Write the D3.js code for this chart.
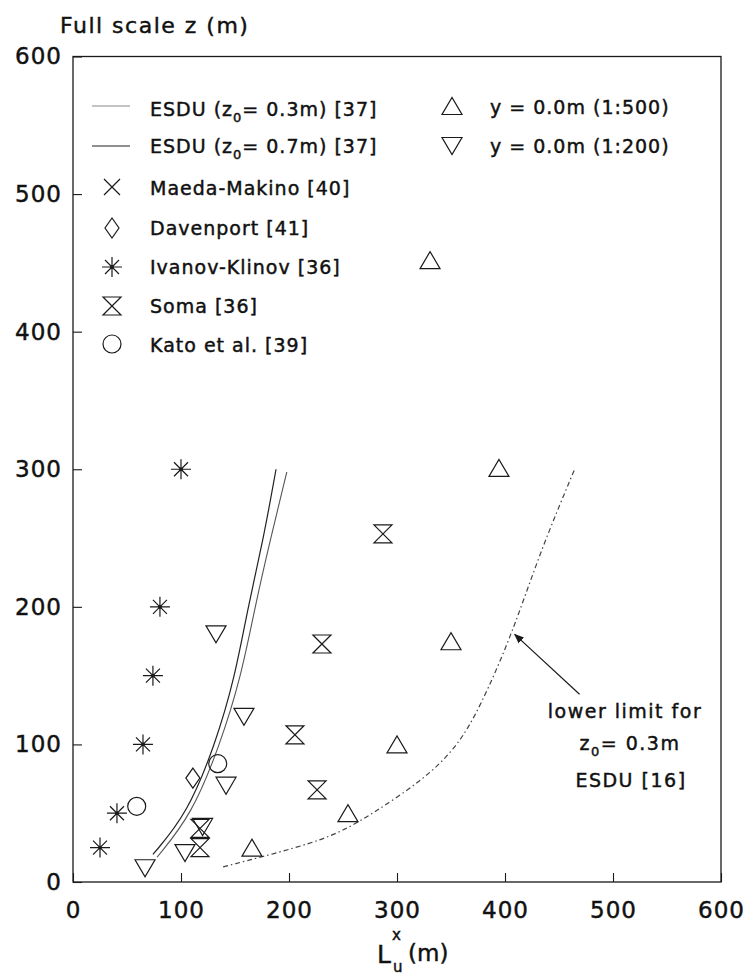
<!DOCTYPE html>
<html>
<head>
<meta charset="utf-8">
<script src="https://cdn.jsdelivr.net/npm/d3@7"></script>
<style>
  html, body { margin: 0; padding: 0; background: #fff; }
  svg { display: block; }
  text { font-family: "DejaVu Sans", "Liberation Sans", sans-serif; fill: #111; stroke: #111; stroke-width: 0.45px; }
</style>
</head>
<body>
<svg id="chart" width="747" height="976"></svg>
<script>
// Integral length scale L_u^x versus full-scale height z
const xTicks = [0, 100, 200, 300, 400, 500, 600];
const yTicks = [0, 100, 200, 300, 400, 500, 600];

// ESDU curves [L (m), z (m)]
const esdu07 = [[74, 20], [105.6, 49.4], [131.5, 99.5], [150, 149], [162, 200], [176, 248], [188, 300]];
const esdu03 = [[77.8, 18], [110, 49], [136, 99.5], [155.6, 149], [168.5, 200], [182.4, 248], [198, 298]];
const esduLower = [[139, 11], [210, 25.4], [247, 35.6], [278, 50], [324, 74], [355.6, 98], [377, 127], [407, 181], [432, 239], [465, 301]];

// Field measurements [L (m), z (m)]
const maedaMakino = [];
const davenport = [[111, 75.5]];
const ivanovKlinov = [[25, 25], [40.7, 50], [64.8, 100], [74, 150], [80.5, 200], [100, 300]];
const soma = [[117.6, 25], [117.6, 39], [205.5, 107], [226, 67], [230.5, 173], [287, 253]];
const kato = [[59, 55], [134, 86]];

// Wind tunnel measurements [L (m), z (m)]
const model500 = [[165.7, 25], [254.6, 50], [300, 100], [350, 175], [394.4, 301], [330.6, 452]];
const model200 = [[66.7, 10], [103.7, 21], [120, 40], [141.7, 70], [158.3, 120], [132.4, 180]];

const svg = d3.select("#chart");
const ink = "#1a1a1a";

const x = d3.scaleLinear().domain([0, 600]).range([73, 721]);
const y = d3.scaleLinear().domain([0, 600]).range([882, 56.5]);

// marker shapes, drawn around (0,0)
const shapes = {
  triUp: "M-10,8.5L10,8.5L0,-8.5Z",
  triDown: "M-10,-8.5L10,-8.5L0,8.5Z",
  hourglass: "M-9,-9L9,-9L-9,9L9,9Z",
  diamond: "M0,-10L7,0L0,10L-7,0Z",
  cross: "M-8,-8L8,8M-8,8L8,-8",
  circle: "M9,0A9,9 0 1,1 -9,0A9,9 0 1,1 9,0Z",
  asterisk: "M-10,0H10M0,-10V10M-7,-7L7,7M-7,7L7,-7"
};

function marker(g, type, px, py) {
  const m = g.append("g").attr("transform", `translate(${px},${py})`);
  m.append("path").attr("d", shapes[type])
    .attr("fill", "none").attr("stroke", ink).attr("stroke-width", 1.2)
    .attr("stroke-linejoin", "miter");
  if (type === "asterisk") {
    m.append("circle").attr("r", 1.8).attr("fill", ink);
  }
  return m;
}

// frame
svg.append("rect")
  .attr("x", x(0)).attr("y", y(600))
  .attr("width", x(600) - x(0)).attr("height", y(0) - y(600))
  .attr("fill", "none").attr("stroke", ink).attr("stroke-width", 1.3);

// axes with inward ticks
const xAxis = d3.axisBottom(x).tickValues(xTicks).tickSize(-9).tickPadding(14).tickFormat(d3.format("d"));
const yAxis = d3.axisLeft(y).tickValues(yTicks).tickSize(-9).tickPadding(10).tickFormat(d3.format("d"));

const gx = svg.append("g").attr("transform", `translate(0,${y(0)})`).call(xAxis);
const gy = svg.append("g").attr("transform", `translate(${x(0)},0)`).call(yAxis);
[gx, gy].forEach(g => {
  g.select(".domain").remove();
  g.selectAll(".tick line").attr("stroke", ink).attr("stroke-width", 1.1);
  g.selectAll(".tick text")
    .attr("fill", ink)
    .style("font-family", "'DejaVu Sans', sans-serif")
    .style("font-size", "23px")
    .style("letter-spacing", "1px");
});
gx.selectAll(".tick text").attr("dy", "0.95em");
gy.selectAll(".tick text").attr("dx", "-1px");

// axis titles
svg.append("text").attr("x", 60).attr("y", 33)
  .style("font-size", "22px").style("letter-spacing", "1.5px")
  .text("Full scale z (m)");

const xt = svg.append("text").attr("x", 377).attr("y", 963).style("font-size", "25px");
xt.append("tspan").text("L");
xt.append("tspan").attr("x", 392).attr("y", 940).style("font-size", "15px").text("x");
xt.append("tspan").attr("x", 393).attr("y", 972).style("font-size", "15px").text("u");
xt.append("tspan").attr("x", 408).attr("y", 961).style("font-size", "23px").text("(m)");

// curves
const line = d3.line().x(d => x(d[0])).y(d => y(d[1])).curve(d3.curveBasis);
svg.append("path").datum(esdu07).attr("d", line)
  .attr("fill", "none").attr("stroke", "#222").attr("stroke-width", 1.2);
svg.append("path").datum(esdu03).attr("d", line)
  .attr("fill", "none").attr("stroke", "#555").attr("stroke-width", 1.1);
svg.append("path").datum(esduLower).attr("d", line)
  .attr("fill", "none").attr("stroke", "#444").attr("stroke-width", 1.2)
  .attr("stroke-dasharray", "5,3,1.5,3");

// points
const pts = svg.append("g");
[
  [maedaMakino, "cross"], [davenport, "diamond"], [ivanovKlinov, "asterisk"],
  [soma, "hourglass"], [kato, "circle"], [model500, "triUp"], [model200, "triDown"]
].forEach(([data, type]) => {
  data.forEach(d => marker(pts, type, x(d[0]), y(d[1])));
});

// annotation with arrow
svg.append("defs").append("marker")
  .attr("id", "head").attr("viewBox", "0 0 10 10")
  .attr("refX", 9).attr("refY", 5)
  .attr("markerWidth", 10).attr("markerHeight", 10)
  .attr("markerUnits", "userSpaceOnUse").attr("orient", "auto")
  .append("path").attr("d", "M0,1L10,5L0,9Z").attr("fill", ink);
svg.append("line")
  .attr("x1", x(469)).attr("y1", y(136.5))
  .attr("x2", x(409)).attr("y2", y(180))
  .attr("stroke", ink).attr("stroke-width", 1.2).attr("marker-end", "url(#head)");

const ann = svg.append("g").style("font-size", "19px").style("letter-spacing", "1.5px");
ann.append("text").attr("x", 625).attr("y", 718).attr("text-anchor", "middle").text("lower limit for");
const a2 = ann.append("text").attr("x", 630).attr("y", 750).attr("text-anchor", "middle");
a2.append("tspan").text("z");
a2.append("tspan").attr("dy", 6).style("font-size", "13px").text("0");
a2.append("tspan").attr("dy", -6).text("= 0.3m");
ann.append("text").attr("x", 631).attr("y", 787).attr("text-anchor", "middle").text("ESDU [16]");

// legend
const leg = svg.append("g").style("font-size", "19px").style("letter-spacing", "1px");
function zLabel(g, tx, ty, pre, post) {
  const t = g.append("text").attr("x", tx).attr("y", ty);
  t.append("tspan").text(pre);
  t.append("tspan").attr("dy", 6).style("font-size", "13px").text("0");
  t.append("tspan").attr("dy", -6).text(post);
}
leg.append("line").attr("x1", 92).attr("x2", 130).attr("y1", 106).attr("y2", 106)
  .attr("stroke", "#888").attr("stroke-width", 1);
zLabel(leg, 150, 116, "ESDU (z", "= 0.3m) [37]");
leg.append("line").attr("x1", 92).attr("x2", 130).attr("y1", 146).attr("y2", 146)
  .attr("stroke", "#222").attr("stroke-width", 1.2);
zLabel(leg, 150, 153, "ESDU (z", "= 0.7m) [37]");

const legItems = [
  ["cross", "Maeda-Makino [40]", 187, 195],
  ["diamond", "Davenport [41]", 228, 235],
  ["asterisk", "Ivanov-Klinov [36]", 267, 274],
  ["hourglass", "Soma [36]", 306, 313],
  ["circle", "Kato et al. [39]", 344, 352]
];
legItems.forEach(([type, label, my, ty]) => {
  marker(leg, type, 112, my);
  leg.append("text").attr("x", 150).attr("y", ty).text(label);
});
marker(leg, "triUp", 452, 106);
leg.append("text").attr("x", 490).attr("y", 114).text("y = 0.0m (1:500)");
marker(leg, "triDown", 452, 146);
leg.append("text").attr("x", 490).attr("y", 153).text("y = 0.0m (1:200)");
</script>
</body>
</html>
